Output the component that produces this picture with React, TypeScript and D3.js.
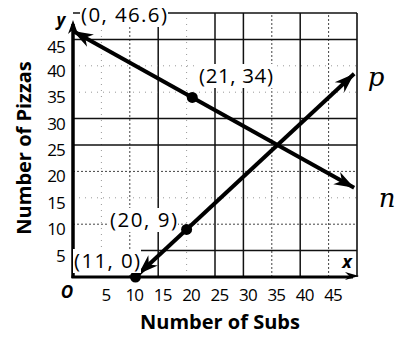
import React from "react";
import * as d3 from "d3";

const xTicks = [5, 10, 15, 20, 25, 30, 35, 40, 45];
const yTicks = [5, 10, 15, 20, 25, 30, 35, 40, 45];
const gridValues = [5, 10, 15, 20, 25, 30, 35, 40, 45];
// line n : from (0, 46.6) through (21, 34)
const lineN: [number, number][] = [[0, 46.6], [49.5, 16.9]];
// line p : from (11, 0) through (20, 9)
const lineP: [number, number][] = [[11, 0], [49.5, 38.5]];
const points: [number, number][] = [[21, 34], [20, 9], [11, 0]];
const pointLabels = ["(0, 46.6)", "(21, 34)", "(20, 9)", "(11, 0)"];

const W = 405, H = 338;

export default function App() {
  const x = d3.scaleLinear().domain([0, 50]).range([73, 357]);
  const y = d3.scaleLinear().domain([0, 50]).range([277, 13]);
  const line = d3.line<[number, number]>().x(d => x(d[0])).y(d => y(d[1]));

  const solidX = new Set([15, 25, 30, 40]);
  const faintX = new Set([5, 20]);
  const solidY = new Set([5, 25, 30, 45]);
  const faintY = new Set([35, 40, 15]);

  const sans = "'Open Sans', 'Noto Sans', sans-serif";

  const arrowHead = (tip: [number, number], from: [number, number], len: number, half: number, key: string) => {
    const dx = tip[0] - from[0], dy = tip[1] - from[1];
    const L = Math.hypot(dx, dy);
    const ux = dx / L, uy = dy / L;
    const bx = tip[0] - ux * len, by = tip[1] - uy * len;
    const px = -uy, py = ux;
    const pts = [
      [tip[0], tip[1]],
      [bx + px * half, by + py * half],
      [tip[0] - ux * len * 0.7, tip[1] - uy * len * 0.7],
      [bx - px * half, by - py * half],
    ];
    return <polygon key={key} points={pts.map(p => p.join(",")).join(" ")} fill="#000" />;
  };

  const px = (d: [number, number]): [number, number] => [x(d[0]), y(d[1])];

  const labelPos = [
    { x: 81, y: 22, w: 86 },
    { x: 199, y: 83, w: 74 },
    { x: 110, y: 227, w: 67 },
    { x: 74, y: 268, w: 66 },
  ];

  return (
    <svg width={W} height={H} style={{ position: "absolute", left: 0, top: 0, background: "#fff" }}>
      <rect x={0} y={0} width={W} height={H} fill="#fff" />
      {/* grid */}
      {gridValues.map(v => (
        <line key={"gx" + v} x1={x(v)} x2={x(v)} y1={y(0)} y2={y(50)}
          stroke={solidX.has(v) ? "#111" : faintX.has(v) ? "#999" : "#444"}
          strokeWidth={solidX.has(v) ? 1.5 : 1}
          strokeDasharray={solidX.has(v) ? undefined : faintX.has(v) ? "1 5" : "2 2"} />
      ))}
      {gridValues.map(v => (
        <line key={"gy" + v} x1={x(0)} x2={x(50)} y1={y(v)} y2={y(v)}
          stroke={solidY.has(v) ? "#111" : faintY.has(v) ? "#999" : "#444"}
          strokeWidth={solidY.has(v) ? 1.5 : 1}
          strokeDasharray={solidY.has(v) ? undefined : faintY.has(v) ? "1 5" : "2 2"} />
      ))}
      {/* border */}
      <line x1={x(0)} x2={x(50)} y1={y(50)} y2={y(50)} stroke="#111" strokeWidth={1.6} />
      <line x1={x(50)} x2={x(50)} y1={y(50)} y2={y(0)} stroke="#111" strokeWidth={1.6} />

      {/* axes */}
      <line x1={x(0)} x2={x(0)} y1={y(0) + 1} y2={24} stroke="#000" strokeWidth={3.5} />
      {arrowHead([x(0), 20], [x(0), 40], 14, 5, "ya")}
      <line x1={x(0) - 1.5} x2={x(50) - 4} y1={y(0)} y2={y(0)} stroke="#000" strokeWidth={3} />
      {arrowHead([x(50) + 2, y(0) - 1], [x(0), y(0) - 1], 14, 4, "xa")}

      {/* lines n and p */}
      <path d={line(lineN) || ""} stroke="#000" strokeWidth={4} fill="none" />
      {arrowHead(px(lineN[0]), px(lineN[1]), 20, 7, "n0")}
      {arrowHead(px(lineN[1]), px(lineN[0]), 20, 7, "n1")}
      <path d={line(lineP) || ""} stroke="#000" strokeWidth={4} fill="none" />
      {arrowHead([x(lineP[0][0]) + 3, y(lineP[0][1]) - 3], px(lineP[1]), 20, 7, "p0")}
      {arrowHead(px(lineP[1]), px(lineP[0]), 20, 7, "p1")}

      {points.map((p, i) => (
        <circle key={"pt" + i} cx={x(p[0])} cy={y(p[1])} r={5.5} fill="#000" />
      ))}

      {/* point labels */}
      {labelPos.map((l, i) => (
        <g key={"lab" + i}>
          <rect x={l.x - 1} y={l.y - 19} width={l.w + 2} height={24} fill="#fff" />
          <text x={l.x} y={l.y} fontFamily={sans} fontSize={20.5} textLength={l.w} lengthAdjust="spacing" fill="#000">
            {pointLabels[i]}
          </text>
        </g>
      ))}

      {/* ticks labels */}
      {xTicks.map(v => (
        <text key={"xt" + v} x={x(v) + 4.5} y={301} textAnchor="middle" fontFamily={sans} fontSize={17} letterSpacing={-0.8} fill="#000">{v}</text>
      ))}
      {yTicks.map(v => (
        <text key={"yt" + v} x={65} y={y(v) + (v === 45 ? 14 : 11)} textAnchor="end" fontFamily={sans} fontSize={17} letterSpacing={-0.8} fill="#000">{v}</text>
      ))}
      <text x={67} y={298} textAnchor="middle" fontFamily={sans} fontStyle="italic" fontWeight={700} fontSize={17} fill="#000">O</text>
      <text x={61} y={26} textAnchor="middle" fontFamily={sans} fontStyle="italic" fontWeight={700} fontSize={17} fill="#000">y</text>
      <text x={347} y={268} textAnchor="middle" fontFamily={sans} fontStyle="italic" fontWeight={700} fontSize={18} fill="#000">x</text>
      <text x={376} y={86} textAnchor="middle" fontFamily="'DejaVu Serif', 'Liberation Serif', serif" fontStyle="italic" fontSize={26} fill="#000">p</text>
      <text x={387} y={207} textAnchor="middle" fontFamily="'DejaVu Serif', 'Liberation Serif', serif" fontStyle="italic" fontSize={26} fill="#000">n</text>

      {/* axis titles */}
      <text x={220} y={329} textAnchor="middle" fontFamily={sans} fontWeight={700} fontSize={20} fill="#000">Number of Subs</text>
      <text transform={`translate(31,148) rotate(-90)`} textAnchor="middle" fontFamily={sans} fontWeight={700} fontSize={20} fill="#000">Number of Pizzas</text>
    </svg>
  );
}
